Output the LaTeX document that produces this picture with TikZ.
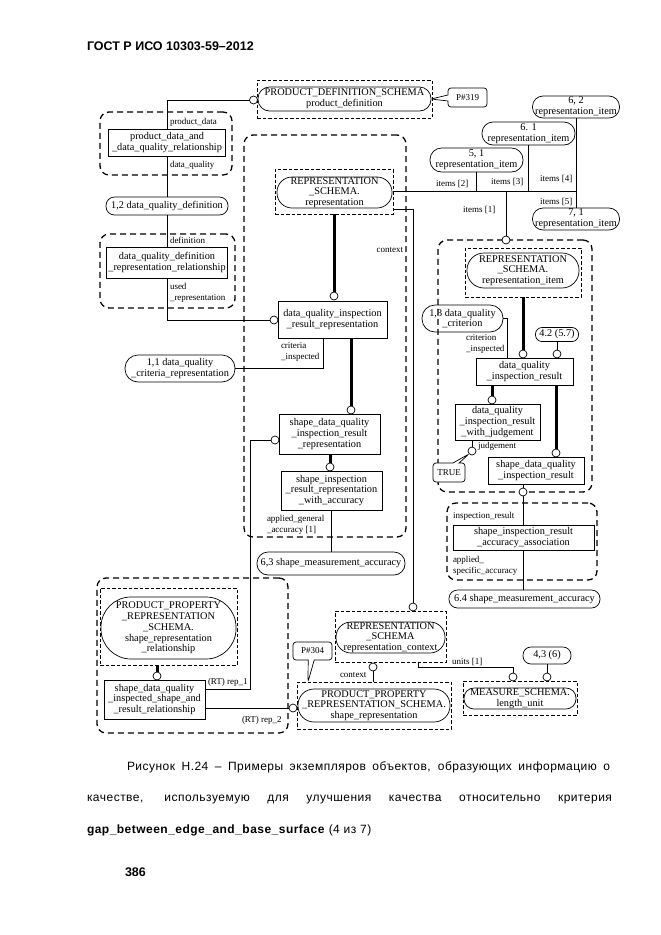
\documentclass[tikz,border=0pt]{standalone}
\usepackage{fontspec}
\setmainfont{Liberation Serif}
\newfontfamily\arialfont{Liberation Sans}
\newfontfamily\capfont[LetterSpace=4]{Liberation Sans}
\usetikzlibrary{shapes.misc,shapes.callouts}
\begin{document}
\begin{tikzpicture}[x=1pt,y=-1pt,
  every node/.style={inner sep=0pt, outer sep=0pt},
  lbl/.style={font=\fontsize{9}{10.7}\selectfont, anchor=west, align=left},
  ebox/.style={draw, line width=0.8pt, align=center, fill=white, font=\fontsize{10.3}{10.7}\selectfont},
  stad/.style={draw, line width=0.7pt, align=center, font=\fontsize{10.3}{10.7}\selectfont},
  sbox/.style={draw, dash pattern=on 3.5pt off 2pt, line width=0.9pt},
  grp/.style={draw, dash pattern=on 6pt off 4pt, line width=1.3pt, rounded corners=9pt},
  rc/.style={draw, circle, fill=white, minimum size=8pt, line width=0.7pt},
  conn/.style={line width=0.8pt},
  thk/.style={line width=3pt},
  callbox/.style={draw, rectangle callout, rounded corners=3pt, fill=white, line width=0.7pt, callout pointer width=6pt, font=\fontsize{9}{10}\selectfont}
]
\useasboundingbox (0,0) rectangle (661,935);

% header
\node[anchor=west, font=\arialfont\bfseries\fontsize{12.5}{14}\selectfont] (hdr) at (87,46) {ГОСТ Р ИСО 10303-59–2012};

% groups
\node[grp, minimum width=132, minimum height=63] (g1) at (166,143.5) {};
\node[grp, minimum width=135, minimum height=74] (g2) at (167.5,271) {};
\node[grp, minimum width=162, minimum height=402] (g3) at (325,336) {};
\node[grp, minimum width=154, minimum height=252] (g4) at (515,366) {};
\node[grp, minimum width=150, minimum height=77] (g5) at (522,541.5) {};
\node[grp, minimum width=191, minimum height=155] (g6) at (192.5,655.5) {};

% top product definition
\node[sbox, minimum width=175, minimum height=38] (pdS) at (344.5,99) {};
\node[stad, minimum width=173, minimum height=24, rounded corners=11.5pt] (pd) at (344.5,99) {PRODUCT\_DEFINITION\_SCHEMA\\product\_definition};
\node[rc] (c1) at (253.5,100) {};
\node[callbox, minimum width=39, minimum height=19, callout absolute pointer={(pd.east)}] (p319) at (467.5,97.5) {P\#319};

% left column
\node[ebox, minimum width=117, minimum height=27] (pdRel) at (167,142.5) {product\_data\_and\\\_data\_quality\_relationship};
\node[lbl] at (170,122) {product\_data};
\node[lbl] at (170,165) {data\_quality};
\node[stad, minimum width=122, minimum height=18, rounded corners=8.5pt] (dqd) at (167,206) {1,2 data\_quality\_definition};
\node[ebox, minimum width=121, minimum height=31] (dqdRel) at (167,262.5) {data\_quality\_definition\\\_representation\_relationship};
\node[lbl] at (170,240) {definition};
\node[lbl] at (170,292.5) {used\\\_representation};
\node[stad, minimum width=110, minimum height=27, rounded corners=13pt] (crit) at (180,368.5) {1,1 data\_quality\\\_criteria\_representation};

% representation group
\node[sbox, minimum width=118, minimum height=45] (repS) at (334,191.5) {};
\node[stad, minimum width=115, minimum height=31, rounded corners=15pt] (rep) at (334.5,192.5) {REPRESENTATION\\\_SCHEMA.\\representation};
\node[ebox, minimum width=109, minimum height=37] (dqIRR) at (332.5,319.5) {data\_quality\_inspection\\\_result\_representation};
\node[rc] (c2) at (334,296) {};
\node[rc] (c3) at (274,320) {};
\node[lbl] at (281,352) {criteria\\\_inspected};
\node[lbl, anchor=east] at (403,250) {context};
\node[ebox, minimum width=101, minimum height=40] (sdqIRR) at (329.5,434) {shape\_data\_quality\\\_inspection\_result\\\_representation};
\node[rc] (c4) at (351,410) {};
\node[rc] (c5) at (275,440) {};
\node[rc] (c6) at (330,467) {};
\node[ebox, minimum width=101, minimum height=39] (sirRwA) at (331.5,490.5) {shape\_inspection\\\_result\_representation\\\_with\_accuracy};
\node[lbl] at (267,524.5) {applied\_general\\\_accuracy [1]};
\node[stad, minimum width=148, minimum height=23, rounded corners=11pt] (sma3) at (331,563.5) {6,3 shape\_measurement\_accuracy};

% items
\node[stad, minimum width=87, minimum height=22, rounded corners=10.5pt] (ri62) at (576,107) {6, 2\\representation\_item};
\node[stad, minimum width=93, minimum height=23, rounded corners=11pt] (ri61) at (528.5,133.5) {6. 1\\representation\_item};
\node[stad, minimum width=93, minimum height=24, rounded corners=11.5pt] (ri51) at (476.5,160) {5, 1\\representation\_item};
\node[stad, minimum width=87, minimum height=22, rounded corners=10.5pt] (ri71) at (576,219) {7, 1\\representation\_item};
\node[lbl] at (436,184) {items [2]};
\node[lbl] at (491,182) {items [3]};
\node[lbl] at (540,179) {items [4]};
\node[lbl] at (540,202) {items [5]};
\node[lbl] at (463,210) {items [1]};

% right group
\node[rc] (c7) at (506,240) {};
\node[sbox, minimum width=116, minimum height=49] (riS) at (523,272.5) {};
\node[stad, minimum width=112, minimum height=35, rounded corners=17pt] (ri) at (523,270.5) {REPRESENTATION\\\_SCHEMA.\\representation\_item};
\node[stad, minimum width=81, minimum height=27, rounded corners=13pt] (crit3) at (462.5,318.5) {1,3 data\_quality\\\_criterion};
\node[lbl] at (466,344) {criterion\\\_inspected};
\node[stad, minimum width=43, minimum height=14, rounded corners=6.5pt] (n42) at (557,334.5) {4.2 (5.7)};
\node[ebox, minimum width=97, minimum height=27] (dqIR) at (524.5,371.5) {data\_quality\\\_inspection\_result};
\node[rc] (c8) at (523,354) {};
\node[rc] (c9) at (557,354) {};
\node[rc] (c10) at (492,400) {};
\node[rc] (c11) at (556,453) {};
\node[ebox, minimum width=85, minimum height=36] (dqIRwJ) at (497.5,422) {data\_quality\\\_inspection\_result\\\_with\_judgement};
\node[rc] (c12) at (472,451) {};
\node[lbl] at (478,446) {judgement};
\node[callbox, minimum width=32, minimum height=19, callout absolute pointer={(c12.south west)}] (tru) at (449,472.5) {TRUE};
\node[ebox, minimum width=96, minimum height=27] (sdqIR) at (536,470.5) {shape\_data\_quality\\\_inspection\_result};
\node[rc] (c13) at (523,492) {};

% lower right group
\node[lbl] at (453,516) {inspection\_result};
\node[ebox, minimum width=141, minimum height=25] (assoc) at (523.5,537.5) {shape\_inspection\_result\\\_accuracy\_association};
\node[lbl] at (453,565.5) {applied\_\\specific\_accuracy};
\node[stad, minimum width=151, minimum height=18, rounded corners=8.5pt] (sma4) at (524.5,599) {6.4 shape\_measurement\_accuracy};

% bottom
\node[sbox, minimum width=111, minimum height=51] (ctxS) at (390.5,636.5) {};
\node[stad, minimum width=109, minimum height=31, rounded corners=15pt] (ctx) at (390.5,637.5) {REPRESENTATION\\\_SCHEMA\\representation\_context};
\node[rc] (c14) at (413,607) {};
\node[rc] (c15) at (373,667) {};
\node[lbl] at (340,675) {context};
\node[sbox, minimum width=154, minimum height=47] (srS) at (374,705.5) {};
\node[stad, minimum width=152, minimum height=33, rounded corners=16pt] (sr) at (374,705.5) {PRODUCT\_PROPERTY\\\_REPRESENTATION\_SCHEMA.\\shape\_representation};
\node[callbox, minimum width=39, minimum height=18, callout absolute pointer={([xshift=11pt]srS.north west)}] (p304) at (312.5,651) {P\#304};
\node[rc] (c16) at (293,708) {};
\node[sbox, minimum width=114, minimum height=34] (luS) at (520,698) {};
\node[stad, minimum width=112, minimum height=21, rounded corners=10pt] (lu) at (520,698.5) {MEASURE\_SCHEMA.\\length\_unit};
\node[rc] (c17) at (513,677) {};
\node[rc] (c18) at (547,677) {};
\node[stad, minimum width=48, minimum height=17, rounded corners=8pt] (n43) at (547,655.5) {4,3 (6)};
\node[lbl] at (452,662) {units [1]};

% lower left group
\node[sbox, minimum width=137, minimum height=77] (pprS) at (168.5,626.5) {};
\node[stad, minimum width=135, minimum height=62, rounded corners=30pt] (ppr) at (168.5,628) {PRODUCT\_PROPERTY\\\_REPRESENTATION\\\_SCHEMA.\\shape\_representation\\\_relationship};
\node[rc] (c19) at (157,676) {};
\node[ebox, minimum width=101, minimum height=39] (relB) at (154.5,699.5) {shape\_data\_quality\\\_inspected\_shape\_and\\\_result\_relationship};
\node[lbl] at (208,682) {(RT) rep\_1};
\node[lbl] at (242,720) {(RT) rep\_2};

% connectors
\draw[conn] (c1) -| (pdRel.north);
\draw[conn] (pdRel.south) -- (dqd.north);
\draw[conn] (dqd.south) -- (dqdRel.north);
\draw[conn] (dqdRel.south) |- (c3);
\draw[thk] (repS.south) -- (c2);
\draw[conn] (crit.east) -| ([xshift=45pt]dqIRR.south west);
\draw[thk] (c4 |- dqIRR.south) -- (c4);
\draw[thk] (c6 |- sdqIRR.south) -- (c6);
\draw[conn] (c5.west) -- ++(-21,0) |- ([yshift=-9pt]relB.north east);
\draw[conn] (sirRwA.south) -- (sirRwA.south |- sma3.north);
\draw[conn] ([yshift=5pt]repS.south east) -| (c14);
\draw[conn] (repS.east) -- (ri62.south |- repS.east);
\draw[conn] (ri62) -- (ri71);
\draw[conn] (ri61.south) -- (ri61.south |- repS.east);
\draw[conn] (ri51.south) -- (ri51.south |- repS.east);
\draw[conn] (c7) -- (c7 |- repS.east);
\draw[thk] (riS.south) -- (c8);
\draw[conn] (crit3.east) -| ([xshift=31pt]dqIR.north west);
\draw[conn] (n42.south) -- (c9);
\draw[thk] (c10 |- dqIR.south) -- (c10);
\draw[thk] (c11 |- dqIR.south) -- (c11);
\draw[conn] (c12 |- dqIRwJ.south) -- (c12);
\draw[conn] (c13 |- sdqIR.south) -- (c13) -- (c13 |- assoc.north);
\draw[conn] (c13 |- assoc.south) -- (c13 |- sma4.north);
\draw[conn] (c15) -- (c15 |- srS.north);
\draw[conn] ([xshift=83pt]ctxS.south west) -- ++(0,5) -| (c17);
\draw[conn] (n43.south) -- (c18);
\draw[conn] (relB.east |- c16) -- (c16);
\draw[thk] (c19 |- pprS.south) -- (c19);

% caption
\node[anchor=west, font=\capfont\fontsize{12}{14}\selectfont] (cap1) at (127,767) {\makebox[483pt][s]{Рисунок Н.24 – Примеры экземпляров объектов, образующих информацию о}};
\node[anchor=west, font=\capfont\fontsize{12}{14}\selectfont] (cap2) at (87,800) {\makebox[525pt][s]{качестве, используемую для улучшения качества относительно критерия}};
\node[anchor=west, font=\capfont\fontsize{12}{14}\selectfont] (cap3) at (87,830) {\textbf{gap\_between\_edge\_and\_base\_surface} (4 из 7)};
\node[anchor=west, font=\arialfont\bfseries\fontsize{12.5}{14}\selectfont] (pg) at (125,872) {386};
\end{tikzpicture}
\end{document}
